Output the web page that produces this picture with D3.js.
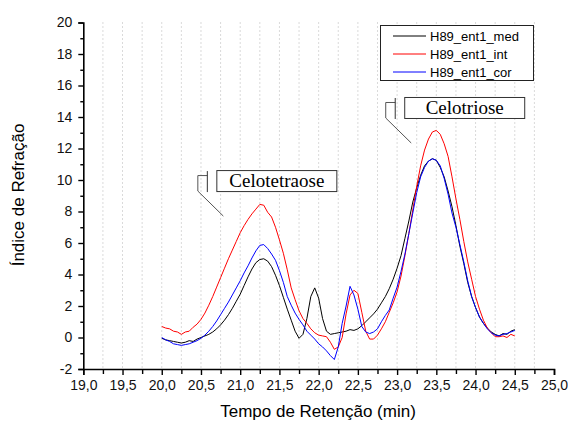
<!DOCTYPE html>
<html>
<head>
<meta charset="utf-8">
<script src="https://cdn.jsdelivr.net/npm/d3@7"></script>
<style>
  body { margin: 0; background: #fff; }
  svg text { font-family: "Liberation Sans", Arial, sans-serif; }
</style>
</head>
<body>
<div id="body"></div>
<script>
// tempo de retenção (min)
const tempo = [20.00, 20.05, 20.10, 20.15, 20.20, 20.25, 20.30, 20.35, 20.40, 20.45,
  20.50, 20.55, 20.60, 20.65, 20.70, 20.75, 20.80, 20.85, 20.90, 20.95,
  21.00, 21.05, 21.10, 21.15, 21.20, 21.25, 21.30, 21.35, 21.40, 21.45,
  21.50, 21.55, 21.60, 21.65, 21.70, 21.75, 21.80, 21.85, 21.90, 21.95,
  22.00, 22.05, 22.10, 22.15, 22.20, 22.25, 22.30, 22.35, 22.40, 22.45,
  22.50, 22.55, 22.60, 22.65, 22.70, 22.75, 22.80, 22.85, 22.90, 22.95,
  23.00, 23.05, 23.10, 23.15, 23.20, 23.25, 23.30, 23.35, 23.40, 23.45,
  23.50, 23.55, 23.60, 23.65, 23.70, 23.75, 23.80, 23.85, 23.90, 23.95,
  24.00, 24.05, 24.10, 24.15, 24.20, 24.25, 24.30, 24.35, 24.40, 24.45, 24.50];

const med = [-0.05, -0.15, -0.20, -0.25, -0.30, -0.35, -0.30, -0.20, -0.25, -0.10,
  0.00, 0.10, 0.20, 0.35, 0.55, 0.80, 1.10, 1.45, 1.85, 2.30,
  2.75, 3.30, 3.85, 4.35, 4.75, 4.95, 5.00, 4.85, 4.50, 3.95,
  3.30, 2.55, 1.80, 1.10, 0.40, -0.05, 0.20, 1.20, 2.60, 3.15,
  2.50, 1.20, 0.40, 0.20, 0.25, 0.30, 0.35, 0.40, 0.50, 0.45,
  0.55, 0.75, 1.00, 1.25, 1.50, 1.80, 2.20, 2.60, 3.10, 3.70,
  4.40, 5.20, 6.30, 7.40, 8.60, 9.50, 10.30, 10.90, 11.20, 11.35,
  11.25, 10.80, 10.20, 9.30, 8.30, 7.10, 5.80, 4.70, 3.50, 2.60,
  1.90, 1.30, 0.90, 0.60, 0.35, 0.20, 0.10, 0.25, 0.20, 0.40, 0.50];

const int = [0.70, 0.60, 0.55, 0.40, 0.35, 0.20, 0.35, 0.40, 0.65, 0.85,
  1.15, 1.55, 2.05, 2.60, 3.20, 3.80, 4.40, 5.00, 5.55, 6.10,
  6.65, 7.10, 7.50, 7.85, 8.15, 8.45, 8.40, 7.95, 7.65, 7.00,
  6.20, 5.35, 4.30, 3.15, 2.40, 1.70, 1.20, 0.90, 0.55, 0.30,
  0.15, 0.10, 0.05, -0.30, -0.75, -0.60, 0.00, 1.50, 2.70, 3.00,
  2.80, 1.60, 0.40, -0.10, -0.10, 0.15, 0.55, 1.00, 1.60, 2.20,
  2.90, 3.90, 5.20, 6.60, 8.10, 9.60, 10.90, 11.90, 12.60, 13.05,
  13.15, 12.90, 12.30, 11.50, 10.20, 8.80, 7.50, 6.10, 4.80, 3.70,
  2.60, 1.80, 1.10, 0.60, 0.30, 0.05, 0.05, 0.10, 0.00, 0.20, 0.10];

const cor = [0.00, -0.15, -0.25, -0.40, -0.45, -0.50, -0.45, -0.40, -0.30, -0.20,
  -0.05, 0.15, 0.40, 0.70, 1.05, 1.45, 1.85, 2.25, 2.70, 3.15,
  3.60, 4.10, 4.55, 5.05, 5.50, 5.85, 5.90, 5.65, 5.30, 4.90,
  4.25, 3.50, 2.60, 2.05, 1.55, 1.15, 0.80, 0.40, 0.15, -0.10,
  -0.40, -0.60, -0.85, -1.15, -1.40, -0.60, 0.90, 2.00, 3.25, 2.70,
  1.80, 0.70, 0.35, 0.25, 0.35, 0.55, 1.00, 1.40, 1.75, 2.50,
  3.20, 4.20, 5.30, 6.60, 7.90, 9.20, 10.20, 10.80, 11.20, 11.35,
  11.25, 10.90, 10.10, 9.10, 7.90, 7.00, 5.90, 4.80, 3.60, 2.60,
  1.90, 1.30, 0.90, 0.55, 0.30, 0.15, 0.10, 0.20, 0.25, 0.35, 0.45];

const seriesNames = ["H89_ent1_med", "H89_ent1_int", "H89_ent1_cor"];
const seriesColors = ["#000000", "#ff0000", "#0000ff"];
const seriesValues = [med, int, cor];

const xMajor = [19.0, 19.5, 20.0, 20.5, 21.0, 21.5, 22.0, 22.5, 23.0, 23.5, 24.0, 24.5, 25.0];
const xGrid = [19.25, 19.5, 19.75, 20.0, 20.25, 20.5, 20.75, 21.0, 21.25, 21.5, 21.75, 22.0,
  22.25, 22.5, 22.75, 23.0, 23.25, 23.5, 23.75, 24.0, 24.25, 24.5, 24.75];
const yMajor = [-2, 0, 2, 4, 6, 8, 10, 12, 14, 16, 18, 20];
const yMinor = [-1, 1, 3, 5, 7, 9, 11, 13, 15, 17, 19];

// peak labels: text and the point the leader line ends at
const notas = [
  { text: "Celotetraose", t: 20.785, v: 7.71 },
  { text: "Celotriose", t: 23.18, v: 12.35 }
];

let width = 568,
  height = 423;

let svg = d3.select("#body").append("svg")
  .attr("width", width)
  .attr("height", height);

let x = d3.scaleLinear().domain([19, 25]).range([83.3, 554]);
let y = d3.scaleLinear().domain([-2, 20]).range([369, 22.5]);

//grid lines
svg.append("g")
  .selectAll("line")
  .data(xGrid)
  .enter()
  .append("line")
  .attr("x1", (d) => x(d))
  .attr("x2", (d) => x(d))
  .attr("y1", y(20))
  .attr("y2", y(-2))
  .style("stroke", "#b4b4b4")
  .style("stroke-width", 1)
  .style("stroke-dasharray", "1,3");

//curves
let line = d3.line()
  .x((d, i) => x(tempo[i]))
  .y((d) => y(d));

seriesValues.forEach(function(vals, k) {
  svg.append("path")
    .datum(vals)
    .attr("d", line)
    .style("fill", "none")
    .style("stroke", seriesColors[k])
    .style("stroke-width", 1);
});

//axes
let fmtX = (d) => d.toFixed(1).replace(".", ",");

let xAxis = svg.append("g")
  .attr("transform", "translate(0," + y(-2) + ")")
  .call(d3.axisBottom(x).tickValues(xMajor).tickSize(6).tickPadding(5).tickFormat(fmtX));
let xMinorAxis = svg.append("g")
  .attr("transform", "translate(0," + y(-2) + ")")
  .call(d3.axisBottom(x).tickValues(xGrid.filter((d) => d % 0.5 != 0)).tickSize(5).tickFormat(""));

let yAxis = svg.append("g")
  .attr("transform", "translate(" + x(19) + ",0)")
  .call(d3.axisLeft(y).tickValues(yMajor).tickSize(5).tickPadding(6).tickFormat((d) => String(d)));
let yMinorAxis = svg.append("g")
  .attr("transform", "translate(" + x(19) + ",0)")
  .call(d3.axisLeft(y).tickValues(yMinor).tickSize(3).tickFormat(""));

[xAxis, xMinorAxis, yAxis, yMinorAxis].forEach(function(g) {
  g.select(".domain").style("stroke", "#000").style("stroke-width", 1.6);
  g.selectAll(".tick line").style("stroke", "#000").style("stroke-width", 1.4);
  g.selectAll("text")
    .style("font-family", "'Liberation Sans', Arial, sans-serif")
    .style("font-size", "14px")
    .style("fill", "#111");
});
xMinorAxis.select(".domain").remove();
yMinorAxis.select(".domain").remove();

//axis titles
svg.append("text")
  .attr("x", 318)
  .attr("y", 417)
  .attr("text-anchor", "middle")
  .style("font-size", "17px")
  .text("Tempo de Retenção (min)");

svg.append("text")
  .attr("transform", "translate(24,195) rotate(-90)")
  .attr("text-anchor", "middle")
  .style("font-size", "17px")
  .text("Índice de Refração");

//legend
let legend = svg.append("g");
legend.append("rect")
  .attr("x", 380.5)
  .attr("y", 25.5)
  .attr("width", 153)
  .attr("height", 55)
  .style("fill", "#fff")
  .style("stroke", "#222")
  .style("stroke-width", 1);

let item = legend.selectAll(".item")
  .data(seriesNames)
  .enter()
  .append("g")
  .attr("class", "item")
  .attr("transform", (d, i) => "translate(0," + (36 + i * 18) + ")");

item.append("line")
  .attr("x1", 393)
  .attr("x2", 426)
  .style("stroke", (d, i) => seriesColors[i])
  .style("stroke-width", 1);

item.append("text")
  .attr("x", 430)
  .attr("dy", "0.35em")
  .style("font-size", "13px")
  .text((d) => d);

//peak labels with bracket leaders, drawn relative to the leader tip
notas.forEach(function(n) {
  let tx = x(n.t), ty = y(n.v);
  let g = svg.append("g").attr("transform", "translate(" + tx + "," + ty + ")");
  g.append("path")
    .attr("d", "M0,0 L-25.5,-25 L-25.5,-40.5 L-16,-40.5")
    .style("fill", "none")
    .style("stroke", "#555")
    .style("stroke-width", 1);
  g.append("line")
    .attr("x1", -16).attr("x2", -16)
    .attr("y1", -45).attr("y2", -24)
    .style("stroke", "#333")
    .style("stroke-width", 1);
  g.append("rect")
    .attr("x", -6.5)
    .attr("y", -45.5)
    .attr("width", 120)
    .attr("height", 21)
    .style("fill", "#fff")
    .style("stroke", "#333")
    .style("stroke-width", 1);
  g.append("text")
    .attr("x", 53.5)
    .attr("y", -29)
    .attr("text-anchor", "middle")
    .style("font-family", "'Liberation Serif', 'Times New Roman', serif")
    .style("font-size", "19px")
    .text(n.text);
});
</script>
</body>
</html>
